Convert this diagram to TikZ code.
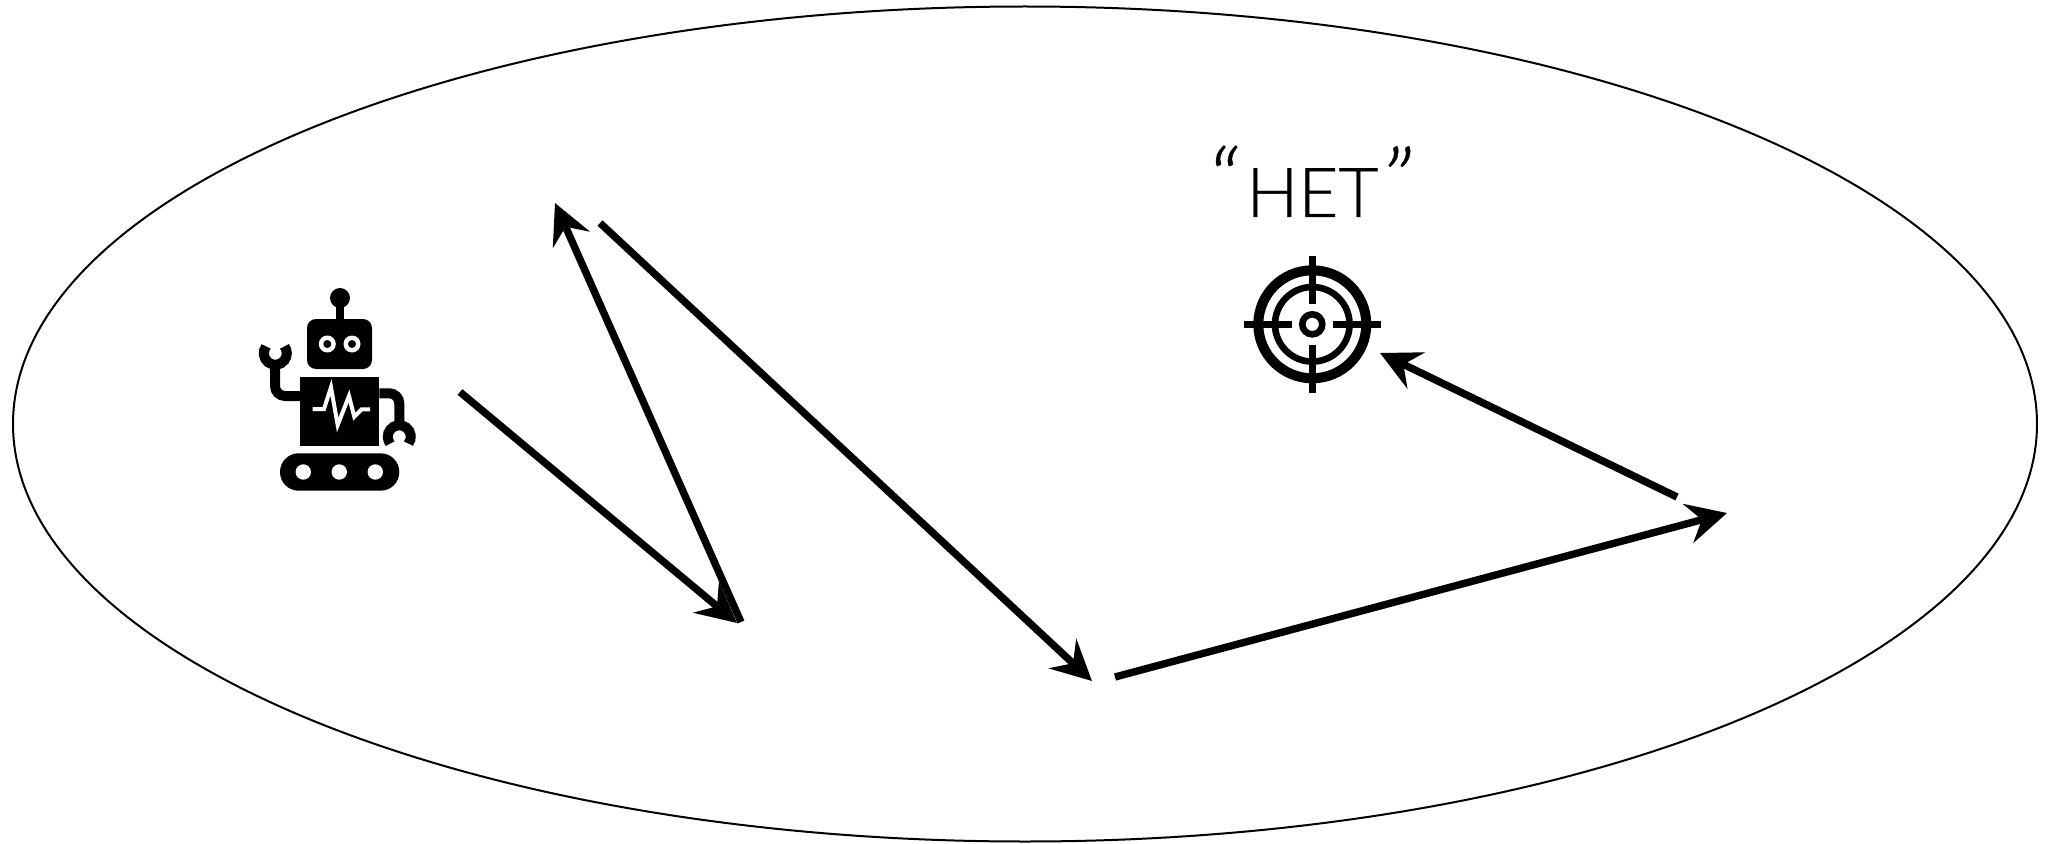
\documentclass[tikz,border=0pt]{standalone}
\usepackage{fontspec}
\newfontfamily\hetfont[FakeBold=0.5]{Lato Light}
\usetikzlibrary{arrows.meta}
\tikzset{
  outline/.style={draw=black, line width=1pt},
  move/.style={draw=black, line width=3.7pt, -{Stealth[length=20pt, width=20pt, inset=7pt]}},
  solid part/.style={fill=black, draw=none},
  hole/.style={fill=white, draw=none},
  limb/.style={draw=black, line width=5pt},
  ring/.style={draw=black, fill=none},
  hair/.style={draw=black, line width=3.3pt},
  heartbeat/.style={draw=white, line width=2pt},
  quoted/.style={font=\hetfont\fontsize{34.5}{40}\selectfont, inner sep=0pt, anchor=base},
}
\newcommand{\bigquote}[1]{{\fontsize{48}{50}\selectfont\textit{#1}}}

\begin{document}
\begin{tikzpicture}[x=0.5pt, y=0.5pt]
  \useasboundingbox (0,0) rectangle (2047,843);

  % --- REGION ---
  \draw[outline] (1025,419) ellipse [x radius=1012, y radius=417.5];

  % --- ROBOT ---
  \begin{scope}[shift={(340,443)}]
    \fill[solid part] (0,102) circle [radius=10];
    \draw[draw=black, line width=4pt] (0,81) -- (0,102);
    \fill[solid part, rounded corners=4.5pt] (-33,31) rectangle (32,81);
    \foreach \x in {-12.7,12} {
      \fill[hole] (\x,56) circle [radius=8.5];
      \fill[solid part] (\x,56) circle [radius=4];
    }
    \fill[solid part] (-40,23.3) rectangle (39.3,-45.7);
    \draw[heartbeat] (-27.3,-9) -- (-16,-9) -- (-9,12.7) -- (-2.3,-25) -- (9,4) -- (14.3,-16.7) -- (21.7,-9.3) -- (30,-9.3);
    \fill[solid part, rounded corners=9.3pt] (-60,-53.3) rectangle (59.3,-90.7);
    \foreach \x in {-36.7,-0.7,35.3} {
      \fill[hole] (\x,-72) circle [radius=7.7];
    }
    % arms and claws
    \draw[limb, rounded corners=5pt] (-40,4) -- (-65,4) -- (-65,40);
    \draw[limb] (-64.7,46.7) ++(143:11.5) arc [start angle=143, end angle=397, radius=11.5];
    \draw[limb, rounded corners=5pt] (39.3,6.7) -- (59.3,6.7) -- (59.3,-26.7);
    \draw[limb] (59.3,-36.7) ++(-37:11.5) arc [start angle=-37, end angle=217, radius=11.5];
  \end{scope}

  % --- TARGET ---
  \node[quoted] (het) at (1309,626) {\bigquote{“}\hspace{4.5pt}HET\hspace{1pt}\bigquote{”}};
  \begin{scope}[shift={(1312.3,518.7)}]
    \draw[ring, line width=5pt] (0,0) circle [radius=54];
    \draw[ring, line width=3.3pt] (0,0) circle [radius=37.3];
    \draw[ring, line width=3.3pt] (0,0) circle [radius=10];
    \foreach \a in {0,90,180,270} {
      \draw[hair] (\a:20.3) -- (\a:68.3);
    }
  \end{scope}

  % --- MOVES ---
  \coordinate (start) at (460,451);
  \coordinate (turn-a) at (737,220);
  \coordinate (back-a) at (741,221);
  \coordinate (turn-b) at (555,640);
  \coordinate (back-b) at (600,620);
  \coordinate (turn-c) at (1092,162);
  \coordinate (back-c) at (1115,166);
  \coordinate (turn-d) at (1727,330);
  \coordinate (back-d) at (1677,346);
  \coordinate (goal) at (1380,490);
  \draw[move] (start) -- (turn-a);
  \draw[move] (back-a) -- (turn-b);
  \draw[move] (back-b) -- (turn-c);
  \draw[move] (back-c) -- (turn-d);
  \draw[move] (back-d) -- (goal);
\end{tikzpicture}
\end{document}
